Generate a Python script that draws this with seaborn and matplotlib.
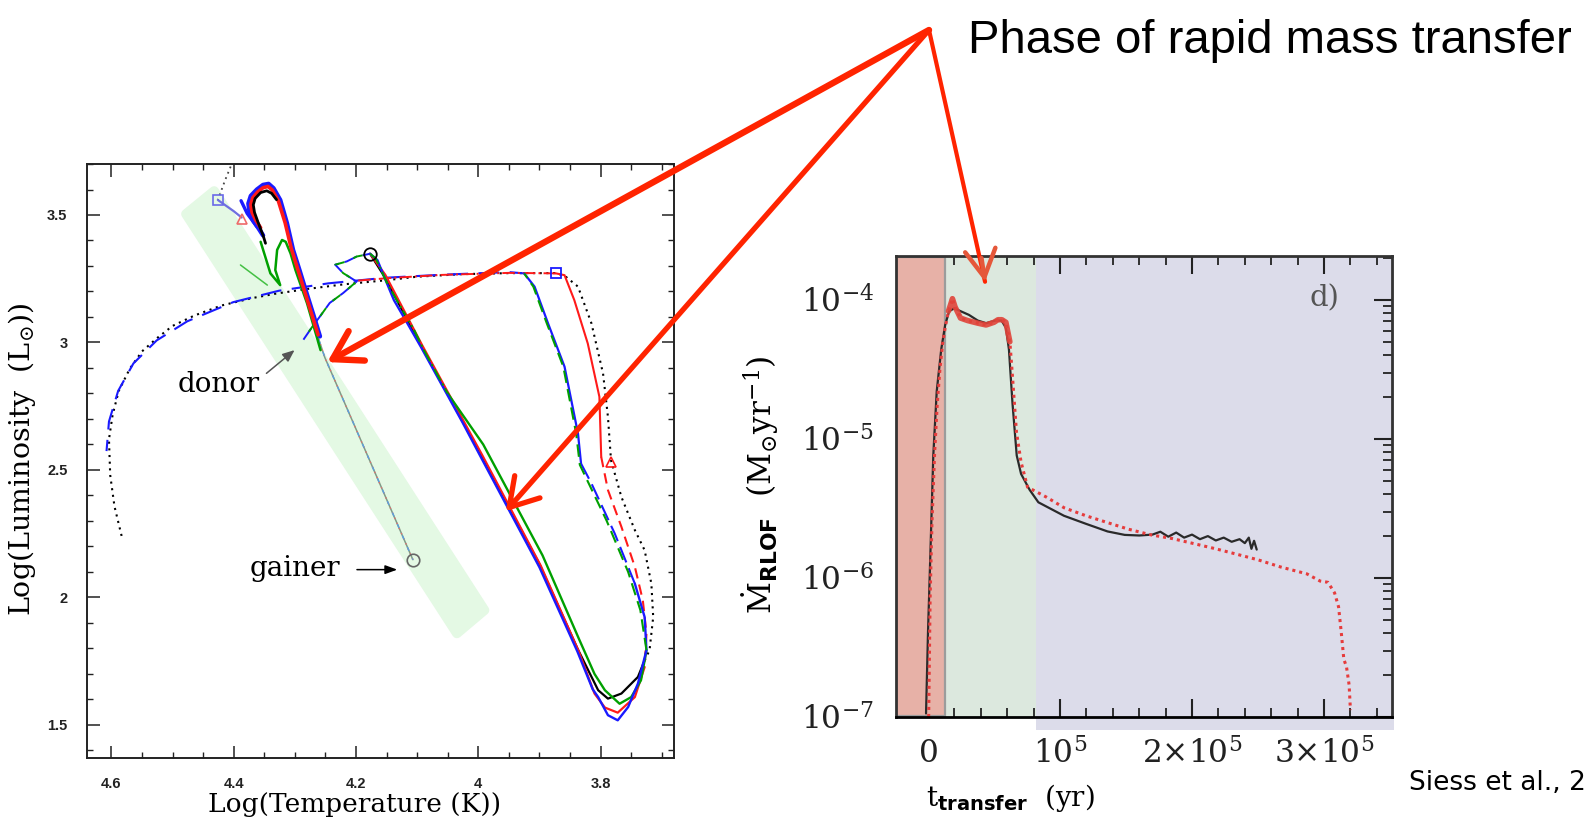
import numpy as np
import pandas as pd
import matplotlib
matplotlib.use("Agg")
import matplotlib.pyplot as plt
import seaborn as sns
from matplotlib.patches import ConnectionPatch, Polygon, Rectangle
from matplotlib.ticker import MultipleLocator, LogLocator, NullFormatter

# ---------------- LEFT PANEL: HR diagram tracks (logT, logL) ----------------
BK_DOT_T = [3.728, 3.720, 3.714, 3.717, 3.728, 3.744, 3.766, 3.783, 3.788, 3.796,
            3.815, 3.837, 3.859, 3.875, 3.95, 4.026, 4.10, 4.151, 4.22, 4.276,
            4.33, 4.370, 4.42, 4.464, 4.50, 4.526, 4.550, 4.570, 4.588, 4.598,
            4.604, 4.602, 4.595, 4.583]
BK_DOT_L = [1.753, 1.793, 1.923, 2.054, 2.185, 2.264, 2.394, 2.538, 2.708, 2.878,
            3.075, 3.219, 3.262, 3.272, 3.272, 3.268, 3.258, 3.244, 3.228, 3.211,
            3.192, 3.174, 3.145, 3.106, 3.065, 3.016, 2.965, 2.897, 2.81, 2.717,
            2.62, 2.48, 2.357, 2.238]
BK_SOL_T = [3.728, 3.739, 3.766, 3.788, 3.804, 3.838, 3.900, 3.996, 4.094, 4.154, 4.177]
BK_SOL_L = [1.753, 1.688, 1.623, 1.603, 1.636, 1.800, 2.130, 2.560, 2.990, 3.260, 3.348]
BK_TOP_T = [4.405, 4.414, 4.426]
BK_TOP_L = [3.690, 3.637, 3.559]

BL_DIAG_T = [4.177, 4.165, 4.154, 4.138, 4.116, 4.094, 4.026, 3.996, 3.900, 3.838,
             3.813, 3.804, 3.788, 3.772, 3.755, 3.739, 3.725, 3.728, 3.744]
BL_DIAG_L = [3.348, 3.323, 3.258, 3.166, 3.075, 2.983, 2.687, 2.551, 2.118, 1.788,
             1.640, 1.609, 1.538, 1.518, 1.570, 1.662, 1.793, 1.923, 2.054]
BL_RGBD_T = [3.744, 3.777, 3.815, 3.832]
BL_RGBD_L = [2.054, 2.251, 2.447, 2.525]
BL_RGBS_T = [3.832, 3.837, 3.859, 3.886, 3.908, 3.925]
BL_RGBS_L = [2.525, 2.643, 2.905, 3.075, 3.219, 3.271]
BL_ARC_T = [3.925, 3.95, 4.057, 4.151, 4.245, 4.326, 4.401, 4.476, 4.526, 4.564,
            4.589, 4.604, 4.608]
BL_ARC_L = [3.271, 3.276, 3.266, 3.254, 3.232, 3.203, 3.158, 3.083, 3.008, 2.918,
            2.810, 2.690, 2.574]

RD_RGBS_T = [3.873, 3.859, 3.843, 3.821, 3.802, 3.799]
RD_RGBS_L = [3.271, 3.264, 3.166, 2.996, 2.787, 2.551]
RD_RGBD_T = [3.799, 3.788, 3.766, 3.744, 3.731, 3.725, 3.728]
RD_RGBD_L = [2.551, 2.421, 2.277, 2.120, 1.989, 1.858, 1.727]
RD_DIAG_T = [3.728, 3.744, 3.772, 3.793, 3.810, 3.836, 3.898, 3.994, 4.092, 4.152, 4.177]
RD_DIAG_L = [1.727, 1.609, 1.548, 1.568, 1.623, 1.790, 2.125, 2.560, 2.990, 3.265, 3.348]
RD_TOP_T = [3.873, 3.95, 4.06, 4.15, 4.20]
RD_TOP_L = [3.271, 3.273, 3.265, 3.252, 3.242]

GR_DD_T = [4.177, 4.168, 4.149, 4.127, 4.105, 4.089, 4.05]
GR_DD_L = [3.348, 3.330, 3.232, 3.140, 3.049, 2.970, 2.800]
GR_DIAG_T = [4.05, 3.992, 3.895, 3.835, 3.810, 3.793, 3.769, 3.750, 3.734, 3.725]
GR_DIAG_L = [2.800, 2.600, 2.165, 1.835, 1.700, 1.636, 1.583, 1.609, 1.675, 1.793]
GR_RGB_T = [3.725, 3.735, 3.755, 3.790, 3.818, 3.834, 3.840, 3.861, 3.888, 3.910, 3.925]
GR_RGB_L = [1.793, 1.950, 2.100, 2.300, 2.440, 2.520, 2.643, 2.905, 3.075, 3.219, 3.271]

DN_T = [4.286, 4.272, 4.259, 4.243, 4.221, 4.199, 4.221, 4.234, 4.215, 4.199, 4.177]
DN_L = [3.011, 3.060, 3.102, 3.155, 3.194, 3.239, 3.272, 3.305, 3.318, 3.337, 3.348]

GN_THIN_T = [4.107, 4.180, 4.251, 4.262]
GN_THIN_L = [2.148, 2.550, 2.941, 3.020]
GB_T = [4.259, 4.270, 4.281, 4.292, 4.303, 4.313, 4.324, 4.335, 4.343, 4.352,
        4.362, 4.372, 4.376, 4.374, 4.368, 4.360, 4.352]
GB_L = [3.024, 3.110, 3.194, 3.280, 3.363, 3.468, 3.559, 3.605, 3.622, 3.618,
        3.600, 3.575, 3.545, 3.510, 3.478, 3.450, 3.420]
GB_TONGUE_T = [4.388, 4.378, 4.362]
GB_TONGUE_L = [3.556, 3.506, 3.454]
GRD_T = [4.262, 4.284, 4.306, 4.316, 4.327, 4.337, 4.344, 4.352, 4.361, 4.369, 4.372, 4.370, 4.364, 4.356]
GRD_L = [3.030, 3.200, 3.370, 3.470, 3.555, 3.598, 3.612, 3.607, 3.590, 3.567, 3.540, 3.510, 3.480, 3.450]
GK_T = [4.330, 4.338, 4.346, 4.356, 4.365, 4.368, 4.366, 4.360, 4.352, 4.348]
GK_L = [3.560, 3.585, 3.595, 3.588, 3.565, 3.540, 3.510, 3.470, 3.420, 3.389]
GG_T = [4.258, 4.280, 4.299, 4.307, 4.315, 4.321, 4.329, 4.332, 4.324, 4.340, 4.356]
GG_L = [2.970, 3.153, 3.284, 3.349, 3.395, 3.402, 3.363, 3.284, 3.225, 3.271, 3.395]
GG2_T = [4.389, 4.345]
GG2_L = [3.304, 3.225]
LINK_T = [4.426, 4.400, 4.387]
LINK_L = [3.559, 3.515, 3.490]

CIRC_T = [4.177, 4.107]
CIRC_L = [3.348, 2.148]
SQ_T = [4.426, 3.873]
SQ_L = [3.559, 3.271]
TRI_T = [4.387, 3.783]
TRI_L = [3.483, 2.532]

BAND_T = [4.478, 4.432, 3.990, 4.035]
BAND_L = [3.504, 3.594, 1.950, 1.859]

# ---------------- RIGHT PANEL: mass-transfer rate ----------------
BK_TIME = [-1500, 0, 1600, 4000, 6600, 10000, 13000, 16000, 20000, 24600,
           31000, 37700, 44000, 51000, 55700, 59000, 61300, 64000, 67200, 70500,
           77000, 83600, 103000, 119700, 136000, 149000, 160000, 170000, 176000, 182000,
           188000, 194000, 200000, 206000, 212000, 218000, 224000, 230000, 236000, 240000,
           243000, 245000, 247000, 249000]
BK_MDOT = [1.06e-7, 4.1e-7, 1.3e-6, 7.6e-6, 2.2e-5, 4.4e-5, 6.6e-5, 8.3e-5, 8.7e-5, 8.3e-5,
           7.8e-5, 7.1e-5, 6.8e-5, 7.1e-5, 7.1e-5, 6.3e-5, 4.4e-5, 1.8e-5, 7.6e-6, 5.6e-6,
           4.3e-6, 3.5e-6, 2.8e-6, 2.45e-6, 2.16e-6, 2.04e-6, 2.02e-6, 2.05e-6, 2.15e-6, 1.98e-6,
           2.12e-6, 1.95e-6, 2.05e-6, 1.90e-6, 2.0e-6, 1.86e-6, 1.95e-6, 1.82e-6, 1.9e-6, 1.78e-6,
           1.95e-6, 1.62e-6, 1.85e-6, 1.6e-6]
RD_TIME = [500, 1600, 3000, 5000, 7000, 9000, 11000, 13000, 15500, 17500,
           18500, 20500, 24600, 30000, 37700, 44000, 50000, 53000, 56000, 59000,
           62000, 64000, 67000, 70500, 75400, 90000, 103000, 119700, 136000, 152000,
           169000, 185000, 202000, 218000, 234000, 250000, 267000, 287000, 297000, 303000,
           308000, 311000, 313000, 315000, 317000, 319000, 320000]
RD_MDOT = [1.0e-7, 7.2e-7, 2.5e-6, 7.9e-6, 1.78e-5, 3.16e-5, 4.8e-5, 6.3e-5, 8.3e-5, 9.5e-5,
           1.02e-4, 8.9e-5, 7.4e-5, 7.1e-5, 6.8e-5, 6.6e-5, 6.9e-5, 7.2e-5, 7.2e-5, 6.9e-5,
           5.0e-5, 2.8e-5, 1.12e-5, 6.8e-6, 4.5e-6, 3.8e-6, 3.2e-6, 2.8e-6, 2.5e-6, 2.24e-6,
           2.04e-6, 1.92e-6, 1.76e-6, 1.62e-6, 1.48e-6, 1.35e-6, 1.2e-6, 1.07e-6, 9.5e-7, 9.3e-7,
           7.8e-7, 6.2e-7, 4.1e-7, 2.6e-7, 2.3e-7, 1.7e-7, 1.12e-7]
PHASE_EDGES = [-24200, 13000, 82000, 351500]
PHASE_COLORS = ["#e7b1a7", "#dce8de", "#dcdcea"]
X_TICKS = [0, 1e5, 2e5, 3e5]
X_LABELS = [r"$0$", r"$10^5$", r"$2{\times}10^5$", r"$3{\times}10^5$"]
Y_TICKS = [1e-7, 1e-6, 1e-5, 1e-4]
Y_LABELS = [r"$10^{-7}$", r"$10^{-6}$", r"$10^{-5}$", r"$10^{-4}$"]
HR_XTICKS = [4.6, 4.4, 4.2, 4.0, 3.8]
HR_XLABELS = ["4.6", "4.4", "4.2", "4", "3.8"]
HR_YTICKS = [1.5, 2.0, 2.5, 3.0, 3.5]
HR_YLABELS = ["1.5", "2", "2.5", "3", "3.5"]

# ---------------- styling ----------------
sns.set_theme(style="ticks")
plt.rcParams["font.family"] = ["DejaVu Serif"]
plt.rcParams["text.color"] = "black"
plt.rcParams["axes.labelcolor"] = "black"
plt.rcParams["xtick.color"] = "black"
plt.rcParams["ytick.color"] = "black"
plt.rcParams["mathtext.fontset"] = "custom"
plt.rcParams["mathtext.rm"] = "DejaVu Serif"
plt.rcParams["mathtext.it"] = "DejaVu Serif:italic"
plt.rcParams["mathtext.bf"] = "DejaVu Sans:bold"
plt.rcParams["mathtext.sf"] = "DejaVu Sans"

fig = plt.figure(figsize=(15.84, 8.18), dpi=100)
fig.patch.set_facecolor("white")
ax1 = fig.add_axes([0.0549, 0.0733, 0.3706, 0.7262])
ax2 = fig.add_axes([0.5657, 0.1235, 0.3131, 0.5636])

# ===== left panel =====
ax1.set_facecolor("white")
band = Polygon(np.column_stack([BAND_T, BAND_L]), closed=True, fc="#e4f9e4",
               ec="#e4f9e4", lw=7, joinstyle="round", zorder=0.5)
ax1.add_patch(band)

def tr(x, y, **kw):
    ax1.plot(x, y, solid_capstyle="round", **kw)

BLUE, RED, GREEN, BLACK = "#1a1aff", "#ff1a1a", "#00a000", "#000000"
tr(BK_DOT_T, BK_DOT_L, color=BLACK, lw=1.5, ls=(0, (1, 2.2)), zorder=3)
tr(BK_SOL_T, BK_SOL_L, color=BLACK, lw=1.6, zorder=2)
tr(BK_TOP_T, BK_TOP_L, color="#444444", lw=1.3, ls=(0, (1, 2.2)), zorder=3)
tr(BL_DIAG_T, BL_DIAG_L, color=BLUE, lw=1.7, zorder=4)
tr(RD_DIAG_T, RD_DIAG_L, color=RED, lw=1.6, zorder=3.5)
tr(GR_DIAG_T, GR_DIAG_L, color=GREEN, lw=1.7, zorder=3.6)
tr(GR_DD_T, GR_DD_L, color=GREEN, lw=1.5, ls="-.", zorder=4.2)
tr(BL_RGBD_T, BL_RGBD_L, color=BLUE, lw=1.5, ls=(0, (8, 3)), zorder=4)
tr(BL_RGBS_T, BL_RGBS_L, color=BLUE, lw=1.6, zorder=4)
tr(GR_RGB_T, GR_RGB_L, color=GREEN, lw=1.5, ls=(0, (6, 3)), zorder=4.1)
tr(RD_RGBS_T, RD_RGBS_L, color=RED, lw=1.5, zorder=3.5)
tr(RD_RGBD_T, RD_RGBD_L, color=RED, lw=1.5, ls=(0, (5, 3)), zorder=3.5)
tr(RD_TOP_T, RD_TOP_L, color=RED, lw=1.4, ls="-.", zorder=3.2)
tr(BL_ARC_T, BL_ARC_L, color=BLUE, lw=1.5, ls=(3, (10, 5)), zorder=3.1)
tr(DN_T, DN_L, color=BLUE, lw=1.4, ls=(0, (7, 3)), zorder=3.3)
tr(DN_T, DN_L, color=GREEN, lw=1.4, ls=(5, (5, 5)), zorder=3.4)
tr(GN_THIN_T, GN_THIN_L, color="#7f9a86", lw=1.1, zorder=3)
tr(GN_THIN_T, GN_THIN_L, color="#e07070", lw=1.0, ls=(0, (1, 3)), zorder=3.1)
tr(GN_THIN_T, GN_THIN_L, color="#5aa0e0", lw=1.0, ls=(2, (3, 6)), zorder=3.1)
tr(GG_T, GG_L, color=GREEN, lw=1.8, zorder=3.2)
tr(GG2_T, GG2_L, color="#44c044", lw=1.1, zorder=3.2)
tr(GB_T, GB_L, color=BLUE, lw=3.2, zorder=3.3)
tr(GB_TONGUE_T, GB_TONGUE_L, color=BLUE, lw=2.4, zorder=3.3)
tr(GRD_T, GRD_L, color=RED, lw=2.6, zorder=3.4)
tr(GK_T, GK_L, color=BLACK, lw=2.0, zorder=3.5)
tr(LINK_T, LINK_L, color="#6f6fe0", lw=1.6, zorder=3.2)
ax1.plot(CIRC_T[:1], CIRC_L[:1], "o", mfc="none", mec="black", ms=9, mew=1.3, zorder=5)
ax1.plot(CIRC_T[1:], CIRC_L[1:], "o", mfc="none", mec="#666666", ms=9, mew=1.2, zorder=5)
ax1.plot(SQ_T[:1], SQ_L[:1], "s", mfc="none", mec="#6a6ae8", ms=6.5, mew=1.2, zorder=5)
ax1.plot(SQ_T[1:], SQ_L[1:], "s", mfc="none", mec=BLUE, ms=6.5, mew=1.3, zorder=5)
ax1.plot(TRI_T[:1], TRI_L[:1], "^", mfc="none", mec="#ee6a6a", ms=7, mew=1.2, zorder=5)
ax1.plot(TRI_T[1:], TRI_L[1:], "^", mfc="none", mec=RED, ms=7, mew=1.2, zorder=5)

ax1.text(4.424, 2.834, "donor", fontsize=20, ha="center", va="center", zorder=6)
ax1.annotate("", xy=(4.297, 2.977), xytext=(4.350, 2.872),
             arrowprops=dict(arrowstyle="-|>,head_length=0.6,head_width=0.25", color="#555555", lw=1.1))
ax1.text(4.300, 2.113, "gainer", fontsize=20, ha="center", va="center", zorder=6)
ax1.annotate("", xy=(4.128, 2.109), xytext=(4.203, 2.109),
             arrowprops=dict(arrowstyle="-|>,head_length=0.6,head_width=0.22", color="black", lw=1.1))

ax1.set_xlim(4.64, 3.68)
ax1.set_ylim(1.37, 3.70)
ax1.xaxis.set_minor_locator(MultipleLocator(0.05))
ax1.yaxis.set_minor_locator(MultipleLocator(0.1))
ax1.set_xticks(HR_XTICKS, HR_XLABELS, fontsize=10.5, fontweight="bold", family="Liberation Sans")
ax1.set_yticks(HR_YTICKS, HR_YLABELS, fontsize=10.5, fontweight="bold", family="Liberation Sans")
ax1.tick_params(which="both", direction="in", top=True, right=True, colors="#222222")
ax1.tick_params(which="major", length=9, width=1.1)
ax1.tick_params(which="minor", length=4.5, width=1.0)
ax1.tick_params(axis="x", pad=14)
ax1.tick_params(axis="y", pad=14)
for s in ax1.spines.values():
    s.set_linewidth(1.4)
    s.set_color("#222222")
ax1.set_xlabel("Log(Temperature (K))", fontsize=19, va="center", ha="center")
ax1.xaxis.set_label_coords(0.456, -0.079)
ax1.set_ylabel(r"Log(Luminosity  (L$_{\odot}$))", fontsize=20.5, va="center", ha="center")
ax1.yaxis.set_label_coords(-0.111, 0.503)

# ===== right panel =====
ax2.set_yscale("log")
ax2.set_facecolor("white")
xt = ax2.get_xaxis_transform()
ax2.add_patch(Rectangle((PHASE_EDGES[0], 0.003), PHASE_EDGES[1] - PHASE_EDGES[0], 0.994,
                        transform=xt, fc=PHASE_COLORS[0], ec="#9c9c9c", lw=1.6, zorder=0.6))
ax2.add_patch(Rectangle((PHASE_EDGES[1], 0), PHASE_EDGES[2] - PHASE_EDGES[1], 1,
                        transform=xt, fc=PHASE_COLORS[1], ec="none", zorder=0.5))
ax2.add_patch(Rectangle((PHASE_EDGES[2], -0.028), PHASE_EDGES[3] - PHASE_EDGES[2] + 1500, 1.028,
                        transform=xt, fc=PHASE_COLORS[2], ec="none", zorder=0.5, clip_on=False))

df_bk = pd.DataFrame({"t": BK_TIME, "mdot": BK_MDOT})
df_rd = pd.DataFrame({"t": RD_TIME, "mdot": RD_MDOT})
sns.lineplot(data=df_bk, x="t", y="mdot", ax=ax2, color="#2a2a2a", lw=1.6,
             sort=False, estimator=None, zorder=3)
sns.lineplot(data=df_rd, x="t", y="mdot", ax=ax2, color="#e63c3c", lw=2.2,
             linestyle=(0, (1, 1.3)), sort=False, estimator=None, zorder=4)
sns.lineplot(data=df_rd.iloc[8:21], x="t", y="mdot", ax=ax2, color="#e0443a", lw=4.0,
             sort=False, estimator=None, zorder=4, alpha=0.9)

ax2.set_xlim(PHASE_EDGES[0], PHASE_EDGES[3])
ax2.set_ylim(1e-7, 2.07e-4)
ax2.set_xticks(X_TICKS, X_LABELS, fontsize=22.5)
ax2.xaxis.set_minor_locator(MultipleLocator(20000))
ax2.set_yticks(Y_TICKS, Y_LABELS, fontsize=22.5)
ax2.yaxis.set_minor_locator(LogLocator(base=10, subs=np.arange(2, 10)))
ax2.yaxis.set_minor_formatter(NullFormatter())
ax2.tick_params(which="both", direction="in", top=True, right=True, colors="#222222")
ax2.tick_params(which="major", length=13, width=1.5)
ax2.tick_params(which="minor", length=6.5, width=1.3)
ax2.tick_params(axis="x", pad=15)
ax2.tick_params(axis="y", pad=16)
for k, s in ax2.spines.items():
    s.set_linewidth(2.0)
    s.set_color("#333333" if k != "bottom" else "#000000")
    s.set_zorder(5)
ax2.set_xlabel(r"$\mathrm{t}_{\mathbf{transfer}}\ \ \mathrm{(yr)}$", fontsize=20, va="center", ha="center")
ax2.xaxis.set_label_coords(0.23, -0.176)
ax2.set_ylabel(r"$\mathrm{\dot{M}}_{\mathbf{RLOF}}\ \ (\mathrm{M}_{\odot}\mathrm{yr}^{-1})$",
               fontsize=22.5, va="center", ha="center")
ax2.yaxis.set_label_coords(-0.274, 0.503)
ax2.text(3.0e5, 1.03e-4, "d)", fontsize=21, color="#555555", ha="center", va="center", zorder=6)

# ===== annotations: title and arrows =====
fig.text(0.611, 0.935, "Phase of rapid mass transfer", fontsize=34,
         family="Liberation Sans", ha="left", va="baseline", color="black")
fig.text(1409 / 1584, 1 - 790 / 818, "Siess et al., 2", fontsize=19,
         family="DejaVu Sans", ha="left", va="baseline", color="black")

ORIGIN = (929 / 1584, 1 - 30 / 818)
ARROW_RED = "#ff2400"
for axB, tip, lw in [(ax1, (4.247, 2.923), 4.6), (ax1, (3.955, 2.338), 3.8)]:
    con = ConnectionPatch(xyA=ORIGIN, coordsA="figure fraction", xyB=tip, coordsB="data",
                          axesB=axB, arrowstyle="->,head_length=0.9,head_width=0.55",
                          mutation_scale=22, color=ARROW_RED, lw=lw, capstyle="round",
                          joinstyle="round", zorder=10)
    fig.add_artist(con)
tip3 = (43200, 1.35e-4)
con = ConnectionPatch(xyA=ORIGIN, coordsA="figure fraction", xyB=tip3, coordsB="data",
                      axesB=ax2, arrowstyle="-", color=ARROW_RED, lw=3.0, zorder=10)
fig.add_artist(con)
con = ConnectionPatch(xyA=(40500, 2.0e-4), coordsA="data", axesA=ax2, xyB=tip3, coordsB="data",
                      axesB=ax2, arrowstyle="->,head_length=0.9,head_width=0.5",
                      mutation_scale=22, color="#e5573a", lw=3.2, zorder=11)
fig.add_artist(con)

fig.savefig("out.png", dpi=100)
